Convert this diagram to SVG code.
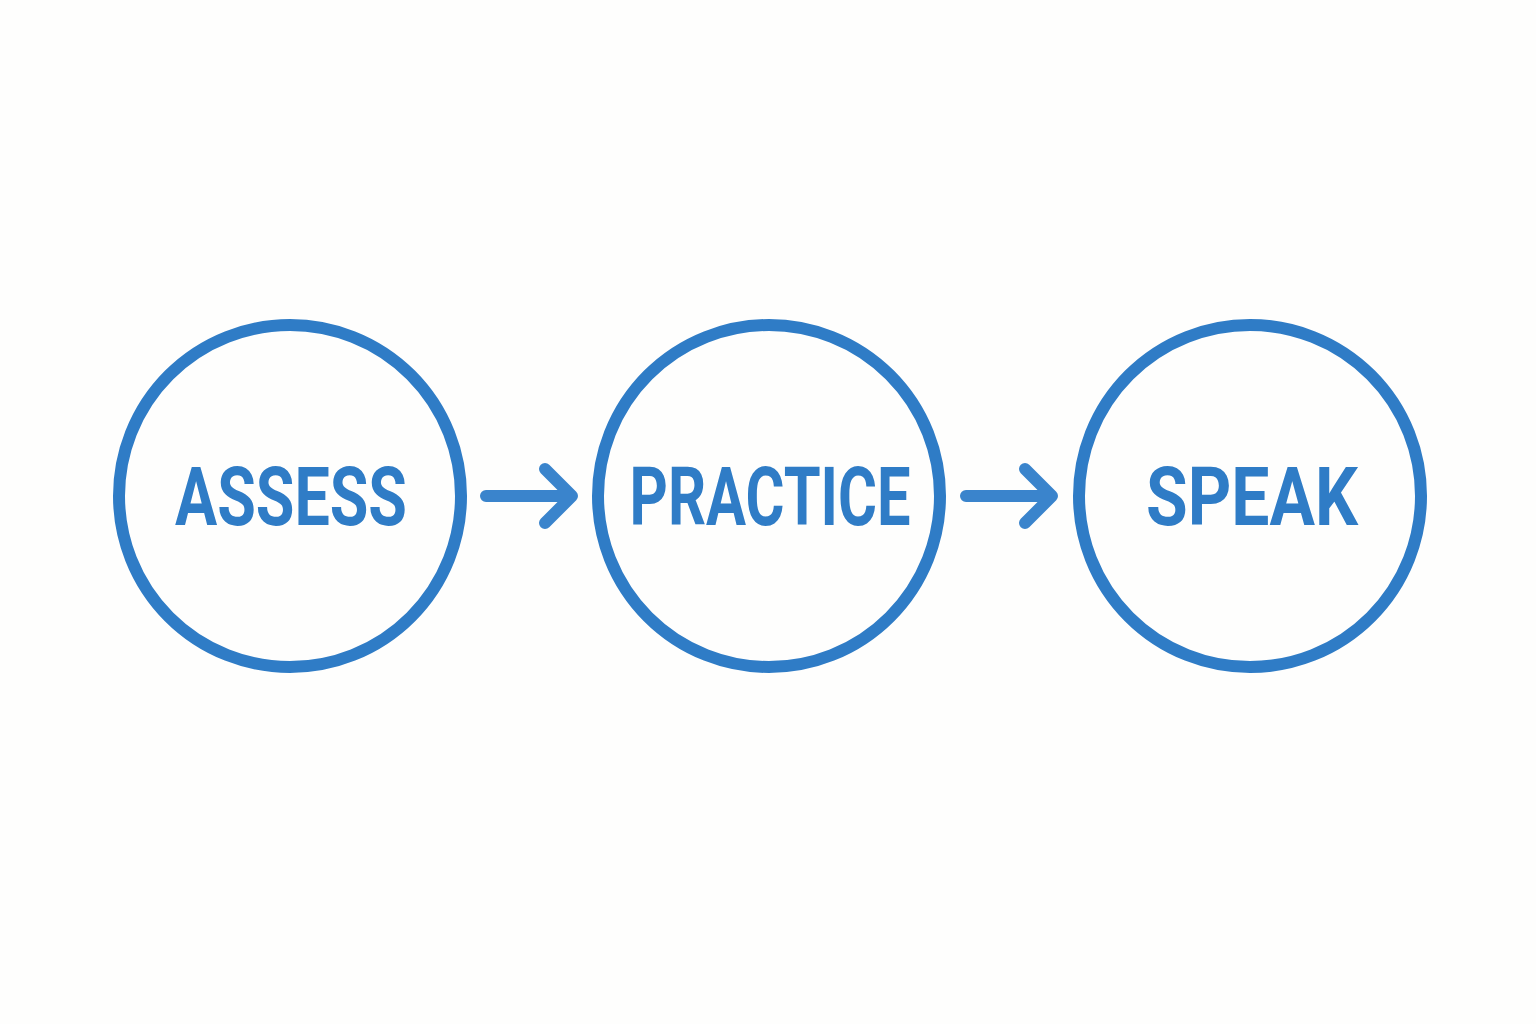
<svg xmlns="http://www.w3.org/2000/svg" width="1536" height="1024" viewBox="0 0 1536 1024">
<style>
.node{fill:none;stroke:#2f7cc6;stroke-width:12}
.lbl{font-family:Roboto,"Liberation Sans",sans-serif;font-weight:700;font-size:82px;fill:#2f7cc6;text-anchor:middle}
.con{fill:none;stroke:#3a84cc;stroke-width:12;stroke-linecap:round;stroke-linejoin:round}
</style>
<rect width="1536" height="1024" fill="#fefefd"/>
<g id="assess"><circle class="node" cx="290" cy="496" r="171"/><text class="lbl" x="291" y="525" textLength="232" lengthAdjust="spacingAndGlyphs">ASSESS</text></g>
<g id="practice"><circle class="node" cx="769" cy="496" r="171"/><text class="lbl" x="770" y="525" textLength="281" lengthAdjust="spacingAndGlyphs">PRACTICE</text></g>
<g id="speak"><circle class="node" cx="1250" cy="496" r="171"/><text class="lbl" x="1252" y="525" textLength="212" lengthAdjust="spacingAndGlyphs">SPEAK</text></g>
<g id="connectors">
<path class="con" d="M486 496H572M545 469L572 496L545 523"/>
<path class="con" d="M966 496H1052M1025 469L1052 496L1025 523"/>
</g>
</svg>
